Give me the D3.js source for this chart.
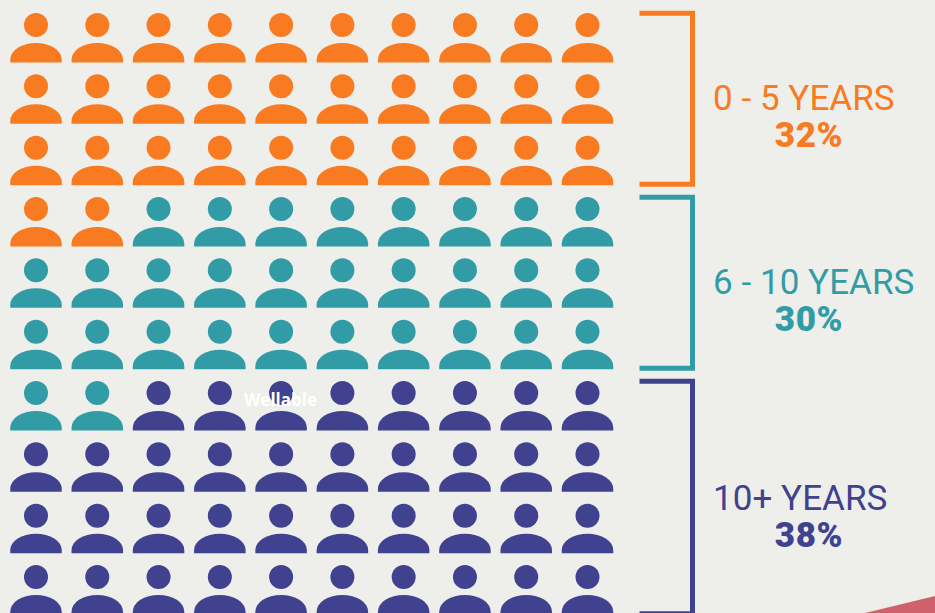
<!DOCTYPE html>
<html>
<head>
<meta charset="utf-8">
<script src="https://cdn.jsdelivr.net/npm/d3@7"></script>
<style>
	html, body { margin: 0; padding: 0; background: #eeefea; overflow: hidden; }
	svg { display: block; }
</style>
</head>
<body>
<div id="canvas"></div>
<script>
// Share of people per tenure group, one icon = one percent
var groups = ['0 - 5 YEARS', '6 - 10 YEARS', '10+ YEARS'],
	counts = [32, 30, 38],
	colors = ['#f87b21', '#329ca6', '#40418f'],
	bracketRows = [[0, 2], [3, 5], [6, 9]],
	columnIndex = d3.range(10),
	rowIndex = d3.range(10);

document.addEventListener('DOMContentLoaded', function(e) {

	var width = 935,
		height = 613,
		svg = d3.select('#canvas').append('svg').attr('width', width).attr('height', height),
		headRadius = 12,
		domeWidth = 51.5,
		domeHeight = 19.5,
		headToBase = 37.5;

	var x = d3.scalePoint().domain(columnIndex).range([36, 587.5]),
		y = d3.scalePoint().domain(rowIndex).range([25, 577]);

	// Each person falls in the group its running index lands in
	var color = d3.scaleThreshold()
		.domain(d3.cumsum(counts).slice(0, -1))
		.range(colors);

	var people = d3.range(d3.sum(counts)).map(function(i) {
		return { i: i, col: i % columnIndex.length, row: Math.floor(i / columnIndex.length) };
	});

	// Shoulders: half an ellipse on a short straight edge
	function domePath() {
		var w = domeWidth / 2, skirt = 3, top = domeHeight - skirt;
		return 'M' + (-w) + ',0V' + (-skirt) +
			'A' + w + ',' + top + ' 0 0 1 ' + w + ',' + (-skirt) +
			'V0Z';
	}

	// Pink corner
	svg.append('path')
		.attr('d', d3.line()([[865, 613], [935, 596], [935, 613]]))
		.attr('fill', '#cf616c');

	var person = svg.selectAll('g.person')
		.data(people)
		.enter()
		.append('g')
		.attr('class', 'person')
		.attr('fill', function(d) { return color(d.i); })
		.attr('transform', function(d) { return 'translate(' + x(d.col) + ',' + y(d.row) + ')'; });

	person.append('circle').attr('r', headRadius);
	person.append('path')
		.attr('d', domePath())
		.attr('transform', 'translate(0,' + headToBase + ')');

	// Brackets span from the first head to the last base of their rows
	svg.selectAll('path.bracket')
		.data(groups)
		.enter()
		.append('path')
		.attr('class', 'bracket')
		.attr('fill', 'none')
		.attr('stroke', function(d, i) { return colors[i]; })
		.attr('stroke-width', 5)
		.attr('d', function(d, i) {
			var top = y(bracketRows[i][0]) - headRadius + 0.3,
				bottom = y(bracketRows[i][1]) + headToBase - 0.8;
			return d3.line()([[639.5, top], [692.5, top], [692.5, bottom], [639.5, bottom]]);
		});

	var labelY = [110, 294, 510],
		percentY = [147, 330.5, 546.5];

	svg.selectAll('text.group')
		.data(groups)
		.enter()
		.append('text')
		.attr('class', 'group')
		.attr('x', 713)
		.attr('y', function(d, i) { return labelY[i]; })
		.attr('fill', function(d, i) { return colors[i]; })
		.style('font', '400 35px Roboto')
		.style('letter-spacing', '0.05px')
		.text(function(d) { return d; });

	svg.selectAll('text.percent')
		.data(counts)
		.enter()
		.append('text')
		.attr('class', 'percent')
		.attr('x', 809)
		.attr('y', function(d, i) { return percentY[i]; })
		.attr('text-anchor', 'middle')
		.attr('fill', function(d, i) { return colors[i]; })
		.style('font', '900 35px Roboto')
		.style('letter-spacing', '0.6px')
		.text(function(d) { return d + '%'; });

	// Watermark
	svg.append('text')
		.attr('x', 280.5)
		.attr('y', 406)
		.attr('text-anchor', 'middle')
		.attr('fill', '#ffffff')
		.style('font', '700 17px "Open Sans"')
		.text('Wellable');
});
</script>
</body>
</html>
